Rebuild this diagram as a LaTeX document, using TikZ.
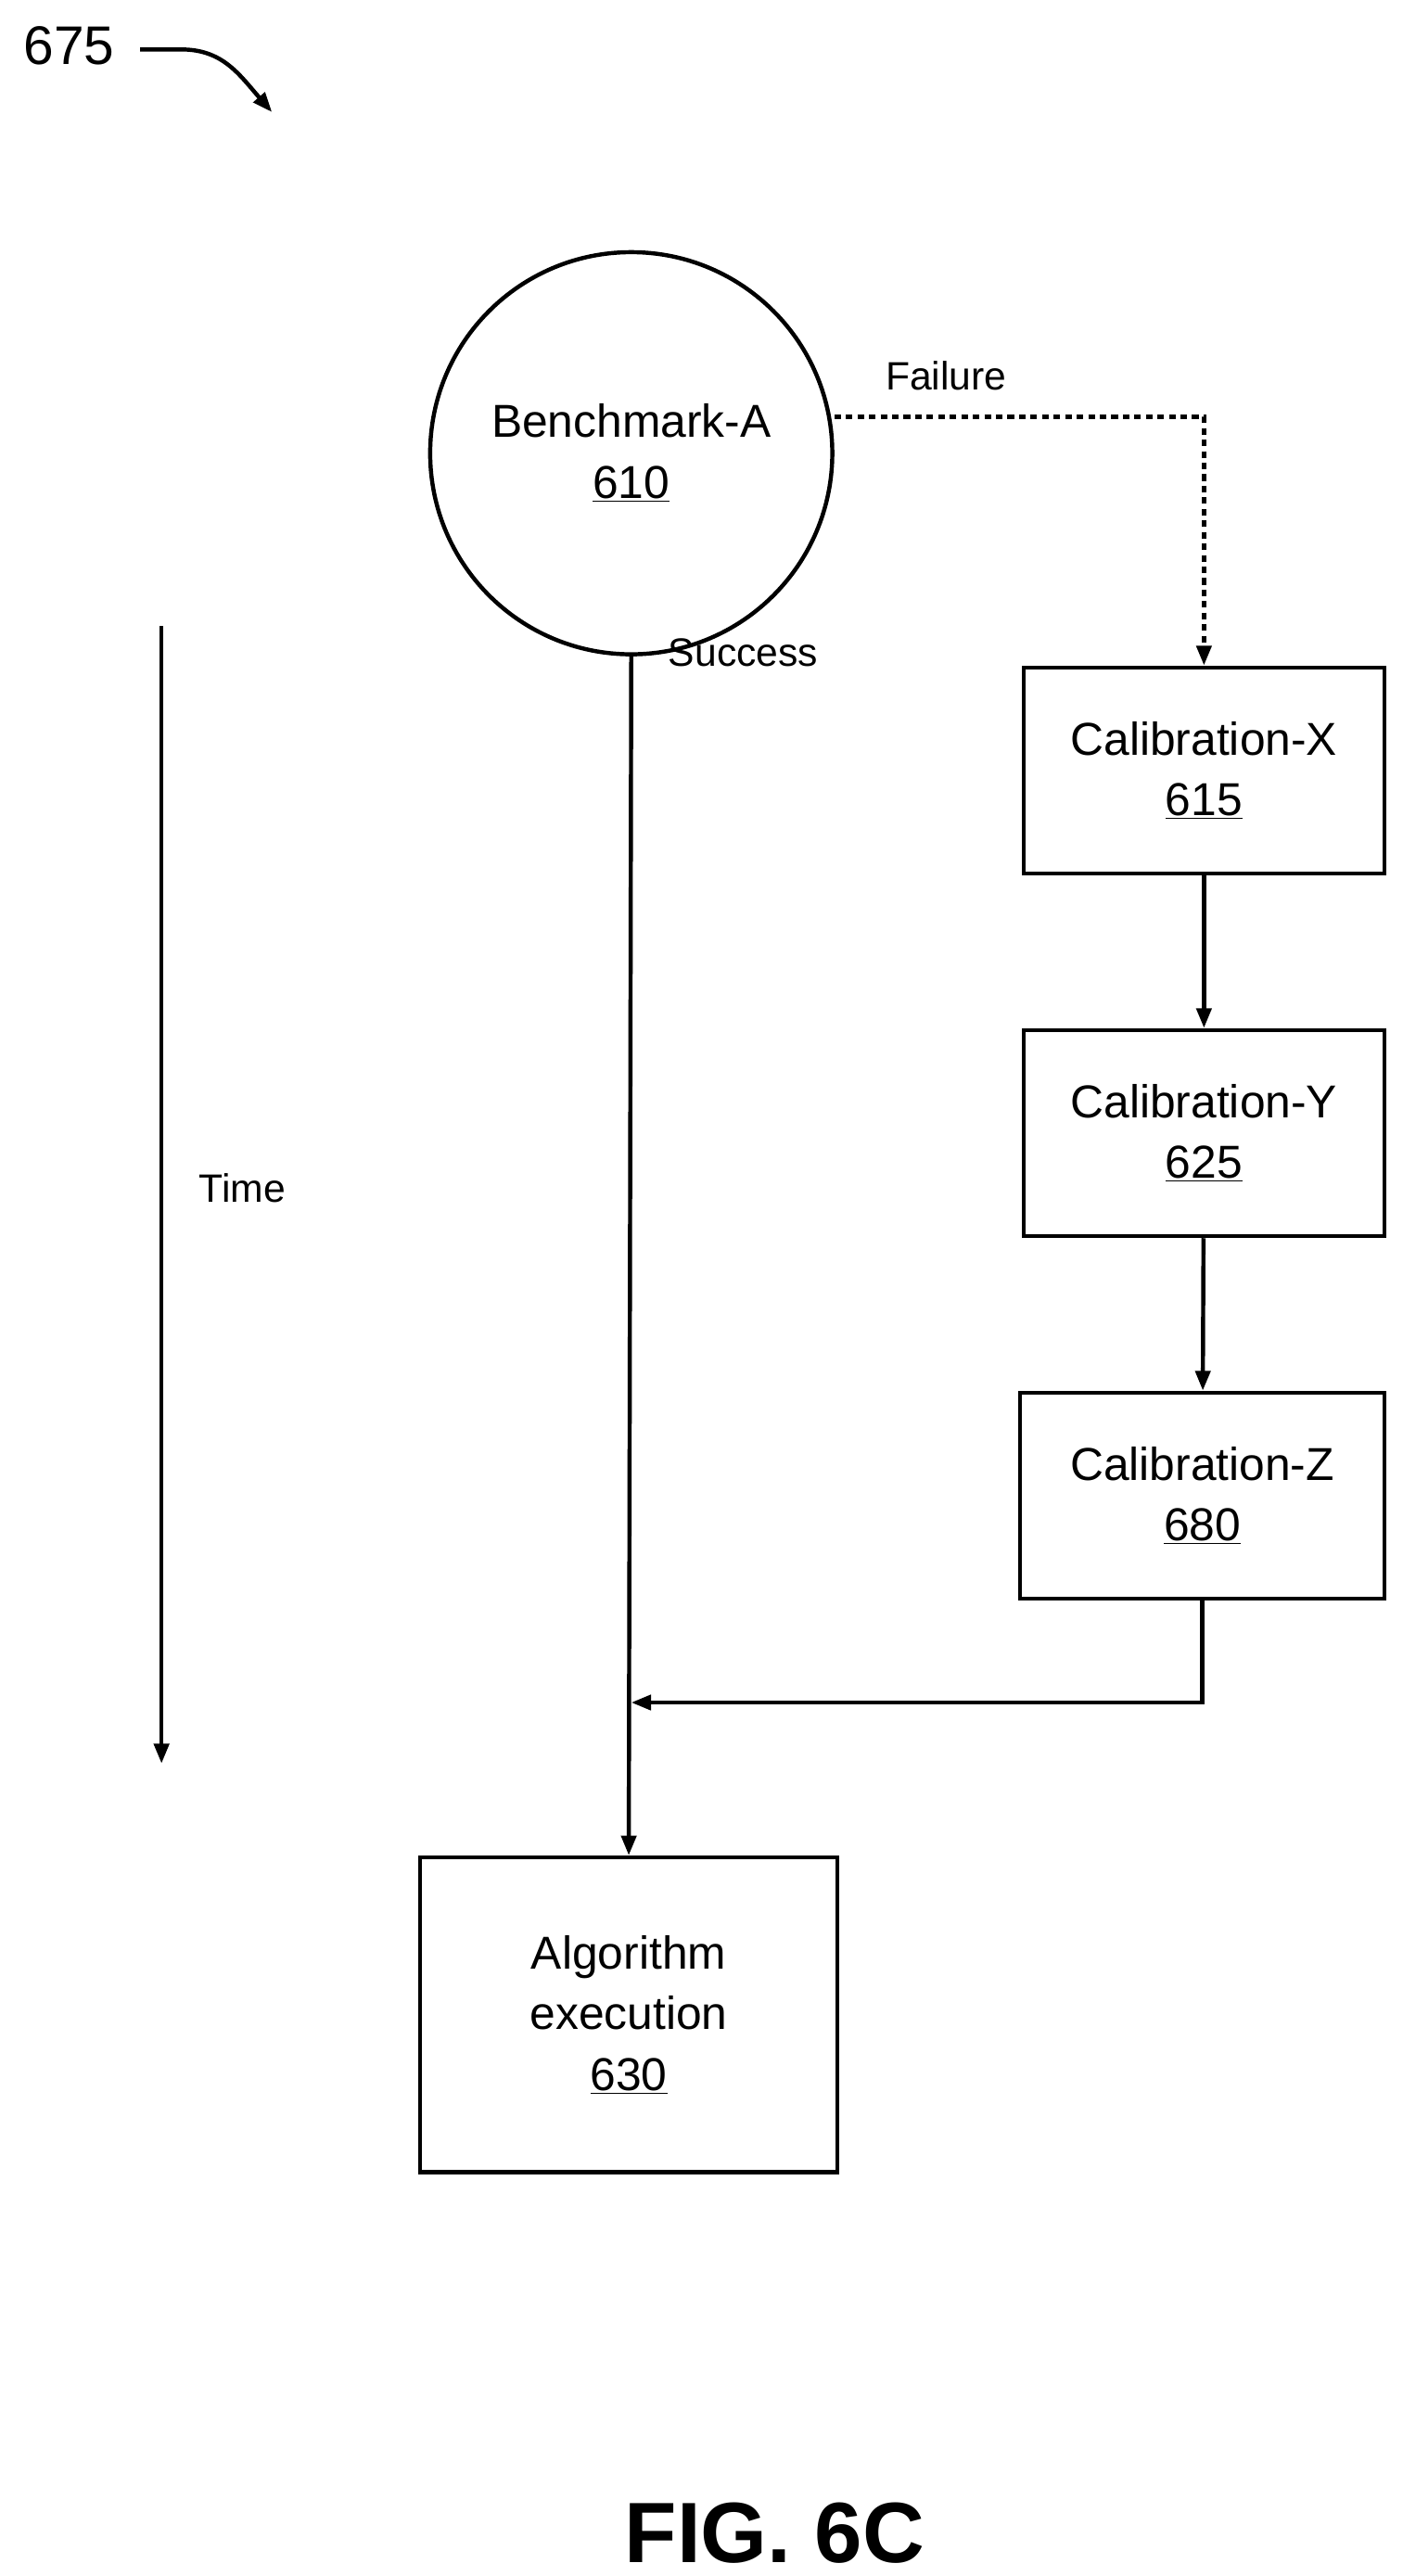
\documentclass[tikz,border=0pt]{standalone}
\usepackage{fontspec}
\setmainfont{Liberation Sans}
\usetikzlibrary{arrows.meta}
\begin{document}
\begin{tikzpicture}[x=1pt,y=-1pt,
  line width=2.5pt,
  arr/.style={-{Triangle[length=12pt,width=9pt]}},
  box/.style={draw,line width=2.5pt,inner sep=0pt,align=center,font=\fontsize{28}{37}\selectfont},
  lbl/.style={font=\fontsize{24}{28}\selectfont}]
\useasboundingbox (0,0) rectangle (851,1563);
\node[lbl,font=\fontsize{33}{36}\selectfont] (n675) at (42,28) {675};
\coordinate (c1) at (85,30);
\coordinate (c2) at (165,68);
\draw[arr] (c1) -- (110,30) .. controls (135,30) and (145,45) .. (c2);
\node[box,circle,minimum size=244pt] (b610) at (383,275) {Benchmark-A\\\underline{610}};
\node[box,minimum width=219pt,minimum height=125pt] (b615) at (730.5,467.5) {Calibration-X\\\underline{615}};
\node[box,minimum width=219pt,minimum height=125pt] (b625) at (730.5,687.5) {Calibration-Y\\\underline{625}};
\node[box,minimum width=221pt,minimum height=125pt] (b680) at (729.5,907.5) {Calibration-Z\\\underline{680}};
\node[box,minimum width=253pt,minimum height=191pt] (b630) at (381.5,1222.5) {Algorithm\\execution\\\underline{630}};
\draw[arr,dash pattern=on 4pt off 3pt] (b610.east |- 0,253) -| (b615.north);
\node[lbl] (fail) at (574,228) {Failure};
\draw[arr] (b610.south) -- (b630.north);
\node[lbl] (succ) at (451,396) {Success};
\draw[arr] (b615) -- (b625);
\draw[arr] (b625) -- (b680);
\coordinate (m) at (383,1033);
\draw[arr] (b680.south) |- (m);
\coordinate (t1) at (98,380);
\coordinate (t2) at (98,1070);
\draw[arr] (t1) -- (t2);
\node[lbl] (time) at (147,721) {Time};
\node[font=\fontsize{52}{56}\selectfont\bfseries] (fig) at (470,1537) {FIG. 6C};
\end{tikzpicture}
\end{document}
